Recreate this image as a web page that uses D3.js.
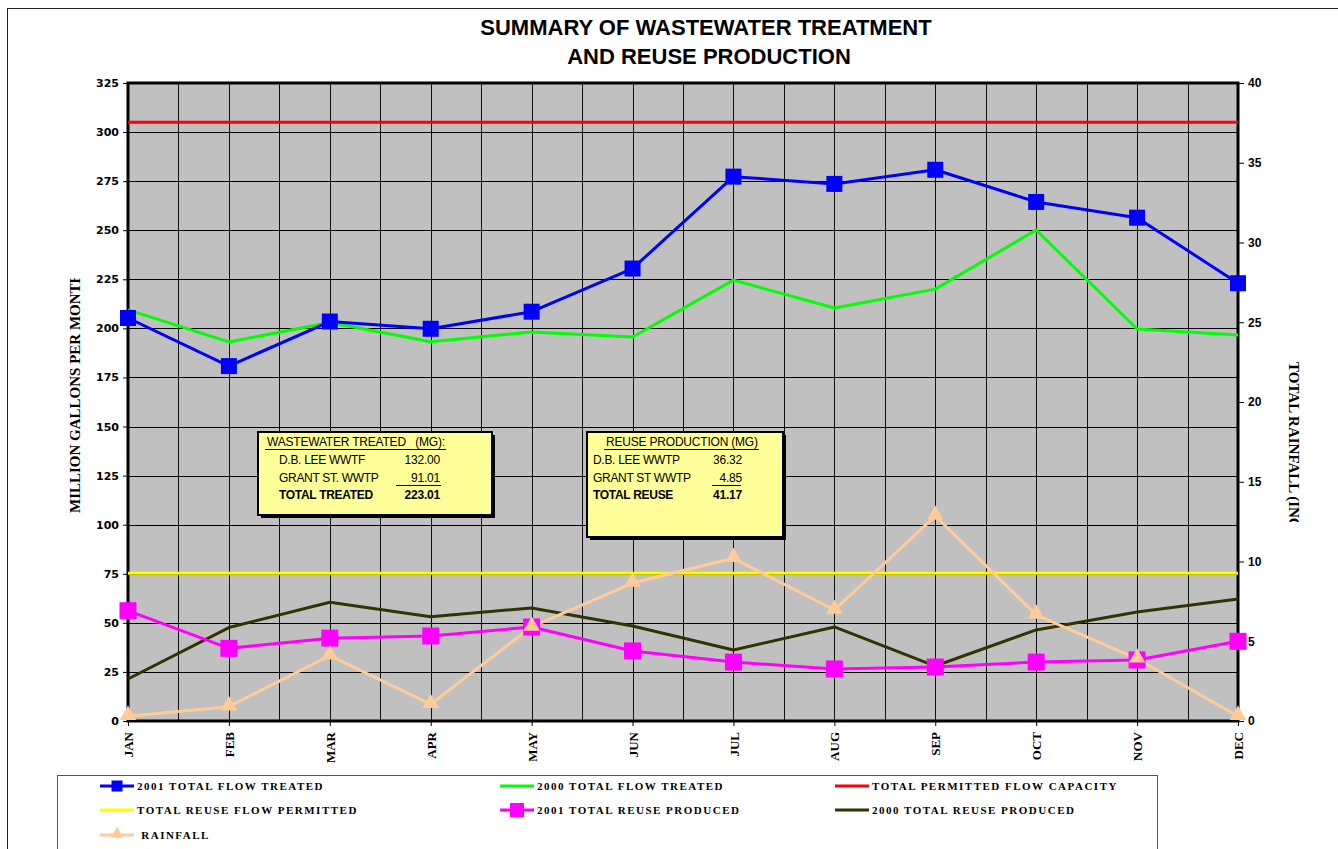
<!DOCTYPE html>
<html>
<head>
<meta charset="utf-8">
<script src="https://cdn.jsdelivr.net/npm/d3@7"></script>
<style>
  body { margin: 0; background: white; }
  svg { display: block; }
</style>
</head>
<body>
<script>
// data
const months = ["JAN", "FEB", "MAR", "APR", "MAY", "JUN", "JUL", "AUG", "SEP", "OCT", "NOV", "DEC"];
const flow2001 = [205.3, 180.8, 203.5, 199.8, 208.5, 230.5, 277.3, 273.6, 280.8, 264.4, 256.4, 223.0];
const flow2000 = [209.4, 193.1, 203.0, 193.2, 198.2, 195.6, 224.6, 210.4, 220.0, 250.1, 199.7, 196.6];
const permittedFlow = 305;
const reusePermitted = 75.3;
const reuse2001 = [56.2, 37.0, 42.2, 43.3, 47.9, 35.7, 30.0, 26.5, 27.5, 30.0, 31.1, 40.6];
const reuse2000 = [21.4, 47.6, 60.5, 53.1, 57.6, 48.4, 36.2, 47.9, 28.0, 46.4, 55.5, 62.1];
const rainfall = [0.3, 0.9, 4.1, 1.05, 5.9, 8.65, 10.2, 6.96, 12.85, 6.65, 3.9, 0.3];
const leftTicks = d3.range(0, 326, 25);
const rightTicks = d3.range(0, 41, 5);

const legendItems = [
  { label: "2001 TOTAL FLOW TREATED", color: "#0000ff", marker: "square" },
  { label: "2000 TOTAL FLOW TREATED", color: "#00ff00", marker: null },
  { label: "TOTAL PERMITTED FLOW CAPACITY", color: "#ff0000", marker: null },
  { label: "TOTAL REUSE FLOW PERMITTED", color: "#ffff00", marker: null },
  { label: "2001 TOTAL REUSE PRODUCED", color: "#ff00ff", marker: "bigsquare" },
  { label: "2000 TOTAL REUSE PRODUCED", color: "#333300", marker: null },
  { label: " RAINFALL", color: "#ffcc99", marker: "triangle" }
];

const width = 1338, height = 849;
const plot = { left: 128, right: 1238, top: 83, bottom: 721 };

const svg = d3.select("body")
  .append("svg")
  .attr("width", width)
  .attr("height", height);

// outer chart border
svg.append("rect")
  .attr("x", 7.5).attr("y", 8.5)
  .attr("width", 1400).attr("height", 900)
  .attr("fill", "white")
  .attr("stroke", "#222")
  .attr("stroke-width", 1);

// title
svg.append("text")
  .attr("x", 706).attr("y", 35)
  .attr("text-anchor", "middle")
  .style("font", "bold 22px 'Liberation Sans', Arial, sans-serif")
  .text("SUMMARY OF WASTEWATER TREATMENT");
svg.append("text")
  .attr("x", 709).attr("y", 64)
  .attr("text-anchor", "middle")
  .style("font", "bold 22px 'Liberation Sans', Arial, sans-serif")
  .text("AND REUSE PRODUCTION");

let xScale = d3.scalePoint(months, [plot.left, plot.right]);
let yScale = d3.scaleLinear([0, 325], [plot.bottom, plot.top]);
let y2Scale = d3.scaleLinear([0, 40], [plot.bottom, plot.top]);

// plot background
svg.append("rect")
  .attr("x", plot.left).attr("y", plot.top)
  .attr("width", plot.right - plot.left)
  .attr("height", plot.bottom - plot.top)
  .attr("fill", "#c0c0c0");

// horizontal gridlines
svg.append("g")
  .selectAll("line")
  .data(leftTicks)
  .join("line")
  .attr("x1", plot.left).attr("x2", plot.right)
  .attr("y1", d => Math.round(yScale(d)) + 0.5)
  .attr("y2", d => Math.round(yScale(d)) + 0.5)
  .attr("stroke", "#000")
  .attr("stroke-width", 1);

// vertical gridlines, one at each month and one half way between
const halfSteps = [];
for (let i = 0; i < months.length; i++) {
  halfSteps.push(xScale(months[i]));
  if (i < months.length - 1) halfSteps.push((xScale(months[i]) + xScale(months[i + 1])) / 2);
}
svg.append("g")
  .selectAll("line")
  .data(halfSteps)
  .join("line")
  .attr("x1", d => Math.round(d) + 0.5).attr("x2", d => Math.round(d) + 0.5)
  .attr("y1", plot.top).attr("y2", plot.bottom)
  .attr("stroke", "#111")
  .attr("stroke-width", 1);

// axes
let yAxis = d3.axisLeft(yScale).tickValues(leftTicks).tickSize(5).tickPadding(4);
let y2Axis = d3.axisRight(y2Scale).tickValues(rightTicks).tickSize(6).tickPadding(4);
let xAxis = d3.axisBottom(xScale).tickSize(5).tickPadding(4);

const gy = svg.append("g")
  .attr("transform", `translate(${plot.left},0)`)
  .call(yAxis);
gy.select(".domain").remove();
gy.selectAll("text")
  .style("font", "bold 11px 'DejaVu Sans', Verdana, sans-serif")
  .attr("fill", "#000");

const gy2 = svg.append("g")
  .attr("transform", `translate(${plot.right},0)`)
  .call(y2Axis);
gy2.select(".domain").remove();
gy2.selectAll("text")
  .style("font", "bold 12px 'Liberation Sans', Arial, sans-serif")
  .attr("fill", "#000");

const gx = svg.append("g")
  .attr("transform", `translate(0,${plot.bottom})`)
  .call(xAxis);
gx.select(".domain").remove();
gx.selectAll("text")
  .style("font", "bold 13px 'Liberation Serif', 'Times New Roman', serif")
  .attr("fill", "#000")
  .attr("transform", "rotate(-90)")
  .attr("text-anchor", "end")
  .attr("x", -11)
  .attr("y", 0)
  .attr("dy", "0.35em");

// thick plot frame
svg.append("rect")
  .attr("x", plot.left).attr("y", plot.top)
  .attr("width", plot.right - plot.left)
  .attr("height", plot.bottom - plot.top)
  .attr("fill", "none")
  .attr("stroke", "#000")
  .attr("stroke-width", 3);

// axis titles, clipped like in the original
svg.append("clipPath").attr("id", "clip-left")
  .append("rect").attr("x", 0).attr("y", 278).attr("width", 120).attr("height", 300);
svg.append("g")
  .attr("clip-path", "url(#clip-left)")
  .append("text")
  .attr("transform", "translate(80,513) rotate(-90)")
  .style("font", "bold 15px 'Liberation Serif', 'Times New Roman', serif")
  .text("MILLION GALLONS PER MONTH");

svg.append("clipPath").attr("id", "clip-right")
  .append("rect").attr("x", 1270).attr("y", 340).attr("width", 60).attr("height", 182);
svg.append("g")
  .attr("clip-path", "url(#clip-right)")
  .append("text")
  .attr("transform", "translate(1289,362) rotate(90)")
  .style("font", "bold 15px 'Liberation Serif', 'Times New Roman', serif")
  .text("TOTAL RAINFALL (INCHES)");

// series
let line = d3.line()
  .x((d, i) => xScale(months[i]))
  .y(d => yScale(d));
let line2 = d3.line()
  .x((d, i) => xScale(months[i]))
  .y(d => y2Scale(d));

function addSeries(data, color, lineFn) {
  svg.append("path")
    .datum(data)
    .attr("fill", "none")
    .attr("stroke", color)
    .attr("stroke-width", 3)
    .attr("stroke-linejoin", "round")
    .attr("d", lineFn);
}

addSeries(months.map(() => permittedFlow), "#ff0000", line);
addSeries(months.map(() => reusePermitted), "#ffff00", line);
addSeries(flow2000, "#00ff00", line);
addSeries(reuse2000, "#333300", line);
addSeries(flow2001, "#0000ff", line);
addSeries(reuse2001, "#ff00ff", line);
addSeries(rainfall, "#ffcc99", line2);

function addSquares(data, color, size) {
  svg.append("g")
    .selectAll("rect")
    .data(data)
    .join("rect")
    .attr("x", (d, i) => xScale(months[i]) - size / 2)
    .attr("y", d => yScale(d) - size / 2)
    .attr("width", size)
    .attr("height", size)
    .attr("fill", color);
}
addSquares(flow2001, "#0000ff", 16);
addSquares(reuse2001, "#ff00ff", 17);

const tri = d3.symbol().type(d3.symbolTriangle).size(120);
svg.append("g")
  .selectAll("path")
  .data(rainfall)
  .join("path")
  .attr("transform", (d, i) => `translate(${xScale(months[i])},${y2Scale(d) - 1})`)
  .attr("d", tri)
  .attr("fill", "#ffcc99");

// info boxes
function addInfoBox(x, y, w, h, title, titleX, rows, valueX, ruleX0, ruleX1, labelX) {
  const g = svg.append("g");
  g.append("rect")
    .attr("x", x + 3).attr("y", y + 3)
    .attr("width", w).attr("height", h)
    .attr("fill", "#000");
  g.append("rect")
    .attr("x", x).attr("y", y)
    .attr("width", w).attr("height", h)
    .attr("fill", "#ffff99")
    .attr("stroke", "#000")
    .attr("stroke-width", 2);
  const t = g.append("text")
    .attr("x", titleX).attr("y", y + 14)
    .style("font", "12px 'Liberation Sans', Arial, sans-serif")
    .style("letter-spacing", "-0.2px")
    .style("white-space", "pre")
    .text(title);
  const tw = t.node().getComputedTextLength();
  g.append("line")
    .attr("x1", titleX - 2).attr("x2", titleX + tw + 1)
    .attr("y1", y + 17.5).attr("y2", y + 17.5)
    .attr("stroke", "#000");
  rows.forEach((r, i) => {
    const font = r.bold ? "bold 12px 'Liberation Sans', Arial, sans-serif" : "12px 'Liberation Sans', Arial, sans-serif";
    g.append("text")
      .attr("x", labelX).attr("y", y + 32 + i * 17.5)
      .style("font", font)
      .style("letter-spacing", "-0.3px")
      .text(r.label);
    g.append("text")
      .attr("x", valueX).attr("y", y + 32 + i * 17.5)
      .attr("text-anchor", "end")
      .style("font", font)
      .style("letter-spacing", "-0.2px")
      .text(r.value);
  });
  g.append("line")
    .attr("x1", ruleX0).attr("x2", ruleX1)
    .attr("y1", y + 53.5).attr("y2", y + 53.5)
    .attr("stroke", "#000");
}

addInfoBox(258, 432, 234, 83, "WASTEWATER TREATED   (MG):", 267,
  [{ label: "D.B. LEE WWTF", value: "132.00" },
   { label: "GRANT ST. WWTP", value: "91.01" },
   { label: "TOTAL TREATED", value: "223.01", bold: true }],
  440, 396, 441, 279);

addInfoBox(587, 432, 196, 105, "REUSE PRODUCTION (MG)", 606,
  [{ label: "D.B. LEE WWTP", value: "36.32" },
   { label: "GRANT ST WWTP", value: "4.85" },
   { label: "TOTAL REUSE", value: "41.17", bold: true }],
  742, 712, 741, 593);

// legend
svg.append("rect")
  .attr("x", 57.5).attr("y", 775.5)
  .attr("width", 1100).attr("height", 100)
  .attr("fill", "white")
  .attr("stroke", "#555")
  .attr("stroke-width", 1);

const legendCols = [100, 500, 835];
const legendRows = [786, 810, 835];
legendItems.forEach((item, i) => {
  const lx = legendCols[i % 3];
  const ly = legendRows[Math.floor(i / 3)];
  const g = svg.append("g");
  g.append("line")
    .attr("x1", lx).attr("x2", lx + 34)
    .attr("y1", ly).attr("y2", ly)
    .attr("stroke", item.color)
    .attr("stroke-width", 3);
  if (item.marker === "square" || item.marker === "bigsquare") {
    const s = item.marker === "square" ? 11 : 14;
    g.append("rect")
      .attr("x", lx + 17 - s / 2).attr("y", ly - s / 2)
      .attr("width", s).attr("height", s)
      .attr("fill", item.color);
  } else if (item.marker === "triangle") {
    g.append("path")
      .attr("transform", `translate(${lx + 17},${ly - 1})`)
      .attr("d", d3.symbol().type(d3.symbolTriangle).size(70))
      .attr("fill", item.color);
  }
  g.append("text")
    .attr("x", lx + 37).attr("y", ly + 4)
    .style("font", "bold 11px 'Liberation Serif', 'Times New Roman', serif")
    .style("letter-spacing", "1.5px")
    .style("white-space", "pre")
    .text(item.label);
});
</script>
</body>
</html>
